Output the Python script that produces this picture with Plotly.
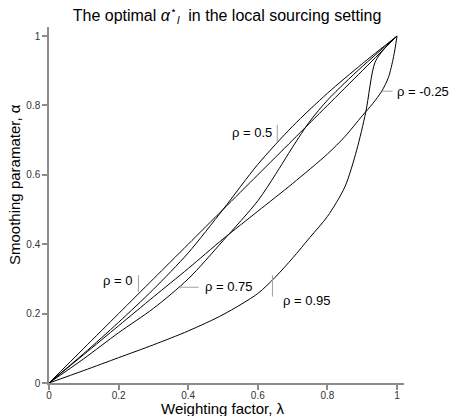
import plotly.graph_objects as go

# Read-off values (lambda, alpha) for each correlation rho
lam_r0 = [0, 0.1, 0.2, 0.3, 0.4, 0.5, 0.6, 0.7, 0.8, 0.9, 1.0]
alpha_r0 = [0, 0.1, 0.2, 0.3, 0.4, 0.5, 0.6, 0.7, 0.8, 0.9, 1.0]

lam_r05 = [0, 0.1, 0.2, 0.3, 0.4, 0.5, 0.6, 0.7, 0.8, 0.9, 1.0]
alpha_r05 = [0, 0.085, 0.175, 0.27, 0.375, 0.5, 0.63, 0.74, 0.835, 0.92, 1.0]

lam_rm025 = [0, 0.1, 0.2, 0.3, 0.4, 0.5, 0.6, 0.7, 0.8, 0.85, 0.9, 0.93, 0.956, 0.975, 0.99, 1.0]
alpha_rm025 = [0, 0.082, 0.165, 0.248, 0.33, 0.415, 0.495, 0.575, 0.66, 0.71, 0.77, 0.805, 0.841, 0.88, 0.94, 1.0]

lam_r075 = [0, 0.1, 0.2, 0.3, 0.4, 0.5, 0.6, 0.65, 0.7, 0.75, 0.8, 0.85, 0.9, 1.0]
alpha_r075 = [0, 0.07, 0.145, 0.215, 0.30, 0.41, 0.525, 0.6, 0.68, 0.755, 0.815, 0.865, 0.912, 1.0]

lam_r095 = [0, 0.1, 0.2, 0.3, 0.4, 0.5, 0.6, 0.65, 0.7, 0.75, 0.8, 0.85, 0.884, 0.91, 0.937, 0.965, 1.0]
alpha_r095 = [0, 0.036, 0.073, 0.11, 0.15, 0.197, 0.258, 0.305, 0.36, 0.42, 0.48, 0.565, 0.671, 0.78, 0.925, 0.965, 1.0]

series = [
    ("ρ = 0", lam_r0, alpha_r0),
    ("ρ = 0.5", lam_r05, alpha_r05),
    ("ρ = -0.25", lam_rm025, alpha_rm025),
    ("ρ = 0.75", lam_r075, alpha_r075),
    ("ρ = 0.95", lam_r095, alpha_r095),
]

x_ticks = [0, 0.2, 0.4, 0.6, 0.8, 1]
x_tick_text = ["0", "0.2", "0.4", "0.6", "0.8", "1"]
y_ticks = [0, 0.2, 0.4, 0.6, 0.8, 1]
y_tick_text = ["0", "0.2", "0.4", "0.6", "0.8", "1"]

FONT = "Liberation Sans, Arial, sans-serif"

fig = go.Figure()
for name, lx, ay in series:
    fig.add_trace(go.Scatter(x=lx, y=ay, mode="lines", name=name,
                             line=dict(color="black", width=1, shape="spline", smoothing=0.8),
                             showlegend=False, hoverinfo="skip"))

# Curve labels: (text, x, y, anchor, pointer segment)
labels = [
    ("ρ = 0", 0.247, 0.294, "right", (0.257, 0.311, 0.257, 0.262)),
    ("ρ = 0.5", 0.649, 0.723, "right", (0.656, 0.744, 0.656, 0.695)),
    ("ρ = -0.25", 0.990, 0.841, "left", (0.956, 0.841, 0.987, 0.841)),
    ("ρ = 0.75", 0.440, 0.277, "left", (0.376, 0.276, 0.430, 0.276)),
    ("ρ = 0.95", 0.664, 0.239, "left", (0.642, 0.311, 0.642, 0.249)),
]
for text, tx, ty, anc, seg in labels:
    fig.add_annotation(x=tx, y=ty, text=text, showarrow=False, xanchor=anc, yanchor="middle",
                       xshift=(-1 if anc == "right" else 1),
                       font=dict(family=FONT, size=13, color="black"))
    fig.add_shape(type="line", x0=seg[0], y0=seg[1], x1=seg[2], y1=seg[3],
                  line=dict(color="#a0a0a0", width=1))

# axis titles
fig.add_annotation(x=(223 - 49) / 355, y=-(408 - 383) / 356, xref="paper", yref="paper",
                   text="Weighting factor, λ", showarrow=False, xanchor="center", yanchor="middle",
                   font=dict(family=FONT, size=15, color="black"))
fig.add_annotation(x=(14 - 49) / 355, y=(383 - 185) / 356, xref="paper", yref="paper",
                   text="Smoothing paramater, α", showarrow=False, xanchor="center", yanchor="middle",
                   textangle=-90, font=dict(family=FONT, size=15, color="black"))

fig.update_layout(
    width=450, height=416,
    margin=dict(l=49, r=46, t=27, b=33, autoexpand=False),
    paper_bgcolor="white", plot_bgcolor="white",
    title=dict(text="The optimal <i>α</i><sup>⋆</sup><sub><i>l</i></sub>  in the local sourcing setting",
               x=227 / 450, xanchor="center", y=1 - 15 / 416, yanchor="middle",
               font=dict(family=FONT, size=16, color="black")),
    xaxis=dict(range=[0, 1.02], tickvals=x_ticks, ticktext=x_tick_text, showgrid=False, zeroline=False,
               showline=True, linecolor="#8c8c8c", linewidth=1.5, ticks="outside", ticklen=5,
               tickcolor="#8c8c8c", tickwidth=1.5, automargin=False, ticklabelstandoff=-3,
               tickfont=dict(family=FONT, size=10, color="#333333")),
    yaxis=dict(range=[0, 1.026], tickvals=y_ticks, ticktext=y_tick_text, showgrid=False, zeroline=False,
               showline=True, linecolor="#8c8c8c", linewidth=1.5, ticks="outside", ticklen=5,
               tickcolor="#8c8c8c", tickwidth=1.5, automargin=False,
               tickfont=dict(family=FONT, size=10, color="#333333")),
)

fig.write_html("out.html", config={"displayModeBar": False},
               post_script="document.body.style.margin='0';document.body.style.overflow='hidden';")
